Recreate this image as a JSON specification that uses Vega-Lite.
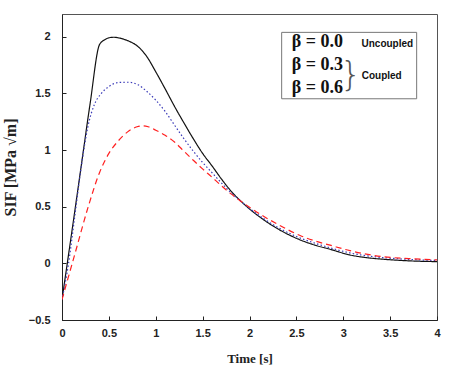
{
  "$schema": "https://vega.github.io/schema/vega-lite/v6.json",
  "autosize": {"type": "none"},
  "padding": {"left": 62, "top": 14, "right": 15, "bottom": 50},
  "width": 375,
  "height": 306,
  "background": "white",
  "config": {
    "view": {"stroke": "#555", "strokeWidth": 1},
    "axis": {
      "grid": false,
      "domainColor": "#222",
      "tickColor": "#222",
      "labelFont": "Liberation Sans",
      "labelFontWeight": "bold",
      "labelFontSize": 11,
      "labelColor": "#222",
      "titleFont": "Liberation Serif",
      "titleFontWeight": "bold",
      "titleColor": "#222"
    }
  },
  "datasets": {
    "curves": [
      {"t": 0, "v": -0.32, "beta": "0.0"},
      {"t": 0.1, "v": 0.25, "beta": "0.0"},
      {"t": 0.2, "v": 0.83, "beta": "0.0"},
      {"t": 0.3, "v": 1.41, "beta": "0.0"},
      {"t": 0.4, "v": 1.93, "beta": "0.0"},
      {"t": 0.45, "v": 1.97, "beta": "0.0"},
      {"t": 0.5, "v": 1.99, "beta": "0.0"},
      {"t": 0.55, "v": 1.995, "beta": "0.0"},
      {"t": 0.6, "v": 1.99, "beta": "0.0"},
      {"t": 0.7, "v": 1.965, "beta": "0.0"},
      {"t": 0.8, "v": 1.92, "beta": "0.0"},
      {"t": 0.9, "v": 1.83, "beta": "0.0"},
      {"t": 1.0, "v": 1.69, "beta": "0.0"},
      {"t": 1.1, "v": 1.54, "beta": "0.0"},
      {"t": 1.2, "v": 1.385, "beta": "0.0"},
      {"t": 1.3, "v": 1.24, "beta": "0.0"},
      {"t": 1.4, "v": 1.1, "beta": "0.0"},
      {"t": 1.5, "v": 0.97, "beta": "0.0"},
      {"t": 1.6, "v": 0.86, "beta": "0.0"},
      {"t": 1.7, "v": 0.745, "beta": "0.0"},
      {"t": 1.8, "v": 0.64, "beta": "0.0"},
      {"t": 1.9, "v": 0.555, "beta": "0.0"},
      {"t": 2.0, "v": 0.48, "beta": "0.0"},
      {"t": 2.15, "v": 0.385, "beta": "0.0"},
      {"t": 2.3, "v": 0.305, "beta": "0.0"},
      {"t": 2.5, "v": 0.221, "beta": "0.0"},
      {"t": 2.7, "v": 0.16, "beta": "0.0"},
      {"t": 2.86, "v": 0.124, "beta": "0.0"},
      {"t": 3.07, "v": 0.074, "beta": "0.0"},
      {"t": 3.25, "v": 0.05, "beta": "0.0"},
      {"t": 3.43, "v": 0.036, "beta": "0.0"},
      {"t": 3.7, "v": 0.022, "beta": "0.0"},
      {"t": 4.0, "v": 0.015, "beta": "0.0"},

      {"t": 0, "v": -0.32, "beta": "0.3"},
      {"t": 0.07, "v": 0.0, "beta": "0.3"},
      {"t": 0.14, "v": 0.44, "beta": "0.3"},
      {"t": 0.21, "v": 0.88, "beta": "0.3"},
      {"t": 0.28, "v": 1.22, "beta": "0.3"},
      {"t": 0.35, "v": 1.41, "beta": "0.3"},
      {"t": 0.42, "v": 1.5, "beta": "0.3"},
      {"t": 0.5, "v": 1.56, "beta": "0.3"},
      {"t": 0.6, "v": 1.595, "beta": "0.3"},
      {"t": 0.7, "v": 1.598, "beta": "0.3"},
      {"t": 0.81, "v": 1.576, "beta": "0.3"},
      {"t": 0.9, "v": 1.52, "beta": "0.3"},
      {"t": 1.0, "v": 1.44, "beta": "0.3"},
      {"t": 1.1, "v": 1.34, "beta": "0.3"},
      {"t": 1.2, "v": 1.22, "beta": "0.3"},
      {"t": 1.3, "v": 1.1, "beta": "0.3"},
      {"t": 1.4, "v": 0.99, "beta": "0.3"},
      {"t": 1.5, "v": 0.89, "beta": "0.3"},
      {"t": 1.6, "v": 0.8, "beta": "0.3"},
      {"t": 1.7, "v": 0.71, "beta": "0.3"},
      {"t": 1.8, "v": 0.625, "beta": "0.3"},
      {"t": 1.9, "v": 0.552, "beta": "0.3"},
      {"t": 2.0, "v": 0.485, "beta": "0.3"},
      {"t": 2.15, "v": 0.395, "beta": "0.3"},
      {"t": 2.3, "v": 0.318, "beta": "0.3"},
      {"t": 2.5, "v": 0.237, "beta": "0.3"},
      {"t": 2.7, "v": 0.177, "beta": "0.3"},
      {"t": 2.86, "v": 0.137, "beta": "0.3"},
      {"t": 3.07, "v": 0.092, "beta": "0.3"},
      {"t": 3.43, "v": 0.05, "beta": "0.3"},
      {"t": 3.7, "v": 0.035, "beta": "0.3"},
      {"t": 4.0, "v": 0.025, "beta": "0.3"},

      {"t": 0, "v": -0.32, "beta": "0.6"},
      {"t": 0.14, "v": 0.09, "beta": "0.6"},
      {"t": 0.28, "v": 0.5, "beta": "0.6"},
      {"t": 0.4, "v": 0.8, "beta": "0.6"},
      {"t": 0.5, "v": 0.97, "beta": "0.6"},
      {"t": 0.6, "v": 1.08, "beta": "0.6"},
      {"t": 0.7, "v": 1.16, "beta": "0.6"},
      {"t": 0.8, "v": 1.205, "beta": "0.6"},
      {"t": 0.86, "v": 1.214, "beta": "0.6"},
      {"t": 0.92, "v": 1.205, "beta": "0.6"},
      {"t": 1.0, "v": 1.175, "beta": "0.6"},
      {"t": 1.1, "v": 1.13, "beta": "0.6"},
      {"t": 1.2, "v": 1.07, "beta": "0.6"},
      {"t": 1.3, "v": 0.99, "beta": "0.6"},
      {"t": 1.4, "v": 0.91, "beta": "0.6"},
      {"t": 1.49, "v": 0.84, "beta": "0.6"},
      {"t": 1.6, "v": 0.76, "beta": "0.6"},
      {"t": 1.7, "v": 0.685, "beta": "0.6"},
      {"t": 1.8, "v": 0.615, "beta": "0.6"},
      {"t": 1.9, "v": 0.553, "beta": "0.6"},
      {"t": 2.0, "v": 0.495, "beta": "0.6"},
      {"t": 2.15, "v": 0.415, "beta": "0.6"},
      {"t": 2.3, "v": 0.345, "beta": "0.6"},
      {"t": 2.54, "v": 0.245, "beta": "0.6"},
      {"t": 2.7, "v": 0.197, "beta": "0.6"},
      {"t": 2.86, "v": 0.16, "beta": "0.6"},
      {"t": 3.07, "v": 0.112, "beta": "0.6"},
      {"t": 3.43, "v": 0.058, "beta": "0.6"},
      {"t": 3.7, "v": 0.042, "beta": "0.6"},
      {"t": 4.0, "v": 0.03, "beta": "0.6"}
    ],
    "box": [{"x1": 2.343, "x2": 3.783, "y1": 1.452, "y2": 2.038}],
    "betas": [
      {"x": 2.45, "y": 1.956, "label": "β = 0.0"},
      {"x": 2.45, "y": 1.753, "label": "β = 0.3"},
      {"x": 2.45, "y": 1.547, "label": "β = 0.6"}
    ],
    "notes": [
      {"x": 3.47, "y": 1.938, "label": "Uncoupled"},
      {"x": 3.41, "y": 1.649, "label": "Coupled"}
    ],
    "brace": [{"x": 3.08, "y": 1.655, "label": "}"}]
  },
  "layer": [
    {
      "data": {"name": "curves"},
      "mark": {"type": "line", "strokeWidth": 1.2, "interpolate": "monotone", "clip": true},
      "encoding": {
        "x": {
          "field": "t", "type": "quantitative",
          "scale": {"domain": [0, 4], "nice": false},
          "axis": {"values": [0, 0.5, 1, 1.5, 2, 2.5, 3, 3.5, 4], "format": "~g", "tickSize": -4, "labelPadding": 11, "title": "Time [s]", "titleFontSize": 13, "titlePadding": 14, "labelFlush": false}
        },
        "y": {
          "field": "v", "type": "quantitative",
          "scale": {"domain": [-0.5, 2.2], "nice": false, "zero": false},
          "axis": {"values": [-0.5, 0, 0.5, 1, 1.5, 2], "format": "~g", "tickSize": -4, "labelPadding": 16, "title": "SIF [MPa √m]", "titleFontSize": 16, "titlePadding": 10}
        },
        "color": {
          "field": "beta", "type": "nominal",
          "scale": {"domain": ["0.0", "0.3", "0.6"], "range": ["#111111", "#3a3ab8", "#ff2020"]},
          "legend": null
        },
        "strokeDash": {
          "field": "beta", "type": "nominal",
          "scale": {"domain": ["0.0", "0.3", "0.6"], "range": [[1, 0], [1.5, 2.2], [6, 4]]},
          "legend": null
        }
      }
    },
    {
      "data": {"name": "box"},
      "mark": {"type": "rect", "fill": "white", "stroke": "#777", "strokeWidth": 1},
      "encoding": {
        "x": {"field": "x1", "type": "quantitative"},
        "x2": {"field": "x2"},
        "y": {"field": "y1", "type": "quantitative"},
        "y2": {"field": "y2"}
      }
    },
    {
      "data": {"name": "betas"},
      "mark": {"type": "text", "align": "left", "baseline": "middle", "font": "Liberation Serif", "fontWeight": "bold", "fontSize": 18, "color": "#111"},
      "encoding": {
        "x": {"field": "x", "type": "quantitative"},
        "y": {"field": "y", "type": "quantitative"},
        "text": {"field": "label"}
      }
    },
    {
      "data": {"name": "notes"},
      "mark": {"type": "text", "align": "center", "baseline": "middle", "font": "Liberation Sans", "fontWeight": "bold", "fontSize": 10, "color": "#111"},
      "encoding": {
        "x": {"field": "x", "type": "quantitative"},
        "y": {"field": "y", "type": "quantitative"},
        "text": {"field": "label"}
      }
    },
    {
      "data": {"name": "brace"},
      "mark": {"type": "text", "align": "center", "baseline": "middle", "font": "DejaVu Sans", "fontWeight": 200, "fontSize": 34, "color": "#555"},
      "encoding": {
        "x": {"field": "x", "type": "quantitative"},
        "y": {"field": "y", "type": "quantitative"},
        "text": {"field": "label"}
      }
    }
  ]
}
